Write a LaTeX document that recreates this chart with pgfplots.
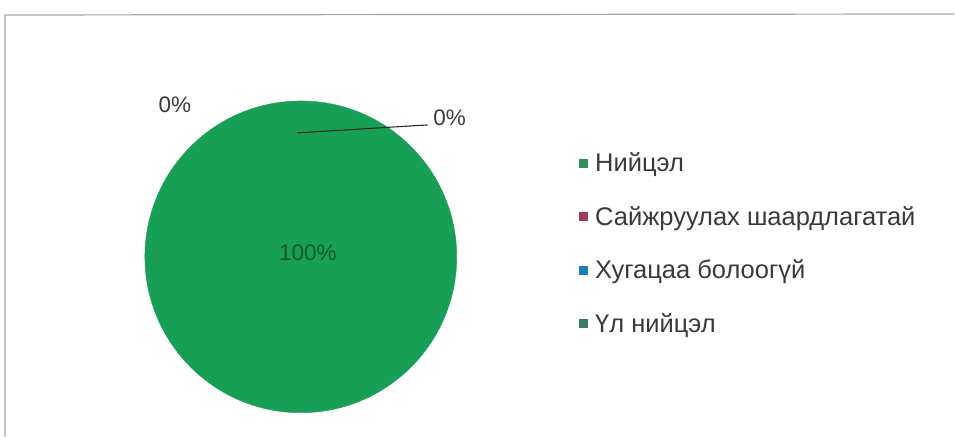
\documentclass[border=0pt]{standalone}
\usepackage{pgfplots}
\pgfplotsset{compat=1.18}
\usepackage{fontspec}
\setmainfont{Liberation Sans}
\definecolor{piegreen}{HTML}{17A055}
\definecolor{lg1}{HTML}{2E8F5E}
\definecolor{lg2}{HTML}{A8385F}
\definecolor{lg3}{HTML}{1E7FB5}
\definecolor{lg4}{HTML}{3C7D62}
\definecolor{txt}{HTML}{3A3A3A}
\definecolor{leader}{HTML}{2A2A2A}
\begin{document}
\begin{tikzpicture}
\begin{axis}[
  set layers=standard,
  width=955bp, height=437bp, scale only axis,
  xmin=0, xmax=955, ymin=0, ymax=437,
  hide axis, clip=false,
  legend style={at={(axis cs:576,288)}, anchor=north west, draw=none, fill=none,
    font=\fontsize{25.5bp}{28bp}\selectfont, text=txt, row sep=29bp,
    nodes={inner xsep=8bp}},
  legend cell align=left,
  legend image code/.code={\fill[#1] (0bp,-4bp) rectangle (8bp,4bp);},
]
\path (axis cs:0,0) rectangle (axis cs:955,437);
\draw[gray!70, line width=1.2bp] (axis cs:5,0) -- (axis cs:5,422) -- (axis cs:955,423);
% pie: single slice of 100 %
\addplot[color=piegreen, only marks, mark=*, mark size=156bp, on layer=axis background,
  mark options={fill=piegreen, draw=piegreen}, forget plot]
  coordinates {(301,180)};
\addplot[color=leader, line width=1.1bp, no marks, forget plot, on layer=axis foreground]
  coordinates {(297,304) (395,310) (428,312)};
\addlegendimage{lg1}\addlegendentry{Нийцэл}
\addlegendimage{lg2}\addlegendentry{Сайжруулах шаардлагатай}
\addlegendimage{lg3}\addlegendentry{Хугацаа болоогүй}
\addlegendimage{lg4}\addlegendentry{Үл нийцэл}
\begin{pgfonlayer}{axis foreground}
\node[text=txt, font=\fontsize{22.5bp}{26bp}\selectfont] at (axis cs:175,332) {0\%};
\node[text=txt, font=\fontsize{22.5bp}{26bp}\selectfont] at (axis cs:450,319) {0\%};
\node[text=piegreen!55!black, font=\fontsize{22.5bp}{26bp}\selectfont] at (axis cs:308,184) {100\%};
\end{pgfonlayer}
\end{axis}
\end{tikzpicture}
\end{document}
